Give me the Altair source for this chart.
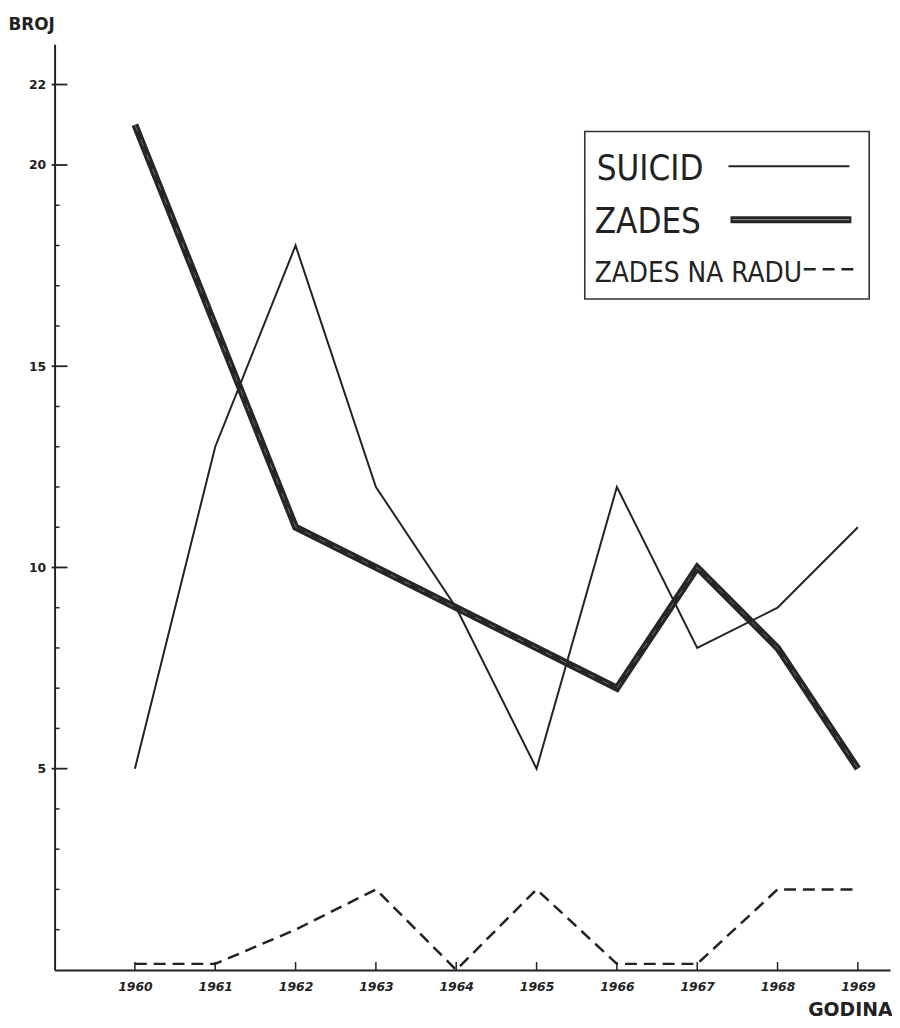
import altair as alt
import pandas as pd

# ---- data ----
years = [1960, 1961, 1962, 1963, 1964, 1965, 1966, 1967, 1968, 1969]
suicid = [5, 13, 18, 12, 9, 5, 12, 8, 9, 11]
zades = [21, 16, 11, 10, 9, 8, 7, 10, 8, 5]
zades_na_radu = [0.15, 0.15, 1, 2, 0, 2, 0.15, 0.15, 2, 2]
y_label_values = [5, 10, 15, 20, 22]
y_minor_ticks = [1, 2, 3, 4, 6, 7, 8, 9, 11, 12, 13, 14, 16, 17, 18, 19]
legend_labels = ["SUICID", "ZADES", "ZADES NA RADU"]

W, H = 843, 934
INK = "#222222"
NARROW = "Liberation Sans Narrow, DejaVu Sans Condensed, Arial Narrow, sans-serif"

rows = []
for name, vals in [("SUICID", suicid), ("ZADES", zades), ("ZADES NA RADU", zades_na_radu)]:
    for yr, v in zip(years, vals):
        rows.append({"year": yr, "value": v, "series": name})
df = pd.DataFrame(rows)
df_years = pd.DataFrame({"year": years})
df_major = pd.DataFrame({"value": y_label_values})
df_minor = pd.DataFrame({"value": y_minor_ticks})
one = pd.DataFrame({"k": [0]})

xscale = alt.Scale(domain=[1959, 1969.4], nice=False, zero=False)
yscale = alt.Scale(domain=[0, 23], nice=False, zero=True)

x_axis = alt.Axis(values=years, format="d", ticks=False, grid=False,
                  domainColor=INK, domainWidth=2,
                  labelFont="DejaVu Sans", labelFontWeight="bold", labelFontStyle="italic",
                  labelFontSize=12.5, labelPadding=11, labelColor=INK,
                  title="GODINA", titleX=W + 2, titleY=46, titleAlign="right",
                  titleBaseline="alphabetic", titleFont="DejaVu Sans", titleFontSize=19,
                  titleFontWeight="bold", titleColor=INK, titleAngle=0)
y_axis = alt.Axis(values=y_label_values, ticks=False, grid=False,
                  domainColor=INK, domainWidth=2,
                  labelFont="DejaVu Sans", labelFontWeight="bold", labelFontSize=12.5,
                  labelPadding=9, labelColor=INK,
                  title="BROJ", titleAngle=0, titleX=-47, titleY=-15, titleAlign="left",
                  titleBaseline="alphabetic", titleFont="DejaVu Sans", titleFontSize=17,
                  titleFontWeight="bold", titleColor=INK)

X = alt.X("year:Q", scale=xscale, axis=x_axis, title="GODINA")
Y = alt.Y("value:Q", scale=yscale, axis=y_axis, title="BROJ")

base = alt.Chart(df)

suicid_line = base.transform_filter(alt.datum.series == "SUICID").mark_line(
    color=INK, strokeWidth=2).encode(x=X, y=Y)
zades_line = base.transform_filter(alt.datum.series == "ZADES").mark_line(
    color="#262626", strokeWidth=7).encode(x=X, y=Y)
zades_inner = base.transform_filter(alt.datum.series == "ZADES").mark_line(
    color="#8a8a8a", strokeWidth=1, strokeDash=[7, 9], opacity=0.7).encode(x=X, y=Y)
radu_line = base.transform_filter(alt.datum.series == "ZADES NA RADU").mark_line(
    color=INK, strokeWidth=2.5, strokeDash=[12, 7]).encode(x=X, y=Y)

# inward ticks
x_ticks = alt.Chart(df_years).mark_rule(color=INK, strokeWidth=1.5).encode(
    x=X, y=alt.value(H), y2=alt.value(H - 8))
y_major = alt.Chart(df_major).mark_rule(color=INK, strokeWidth=1.8).encode(
    y=Y, x=alt.value(-3), x2=alt.value(13))
y_minor = alt.Chart(df_minor).mark_rule(color=INK, strokeWidth=1.5).encode(
    y=Y, x=alt.value(0), x2=alt.value(5))

# hand-drawn style legend box
leg = alt.Chart(one)
leg_box = leg.mark_rect(filled=False, stroke="#333333", strokeWidth=1.6).encode(
    x=alt.value(535), x2=alt.value(822), y=alt.value(88), y2=alt.value(257))
leg_t1 = leg.mark_text(text=legend_labels[0], align="left", baseline="alphabetic",
                       font=NARROW, fontSize=35, color=INK).encode(
    x=alt.value(547), y=alt.value(137))
leg_t2 = leg.mark_text(text=legend_labels[1], align="left", baseline="alphabetic",
                       font=NARROW, fontSize=35, color=INK).encode(
    x=alt.value(545), y=alt.value(190))
leg_t3 = leg.mark_text(text=legend_labels[2], align="left", baseline="alphabetic",
                       font=NARROW, fontSize=28, color=INK).encode(
    x=alt.value(545), y=alt.value(240))
leg_l1 = leg.mark_rule(color=INK, strokeWidth=2).encode(
    x=alt.value(680), x2=alt.value(802), y=alt.value(123))
leg_l2 = leg.mark_rule(color="#262626", strokeWidth=7).encode(
    x=alt.value(682), x2=alt.value(804), y=alt.value(177))
leg_l2b = leg.mark_rule(color="#9a9a9a", strokeWidth=1).encode(
    x=alt.value(684), x2=alt.value(802), y=alt.value(177))
leg_l3 = leg.mark_rule(color=INK, strokeWidth=2.5, strokeDash=[12, 7]).encode(
    x=alt.value(756), x2=alt.value(810), y=alt.value(227))

chart = alt.layer(
    suicid_line, zades_line, zades_inner, radu_line,
    x_ticks, y_major, y_minor,
    leg_box, leg_t1, leg_t2, leg_t3, leg_l1, leg_l2, leg_l2b, leg_l3,
).properties(
    width=W, height=H,
    autosize=alt.AutoSizeParams(type="none"),
    padding={"left": 47, "top": 32, "right": 2, "bottom": 52},
    background="white",
).configure_view(stroke=None)

chart.save("out.html", embed_options={"renderer": "svg", "actions": False})
